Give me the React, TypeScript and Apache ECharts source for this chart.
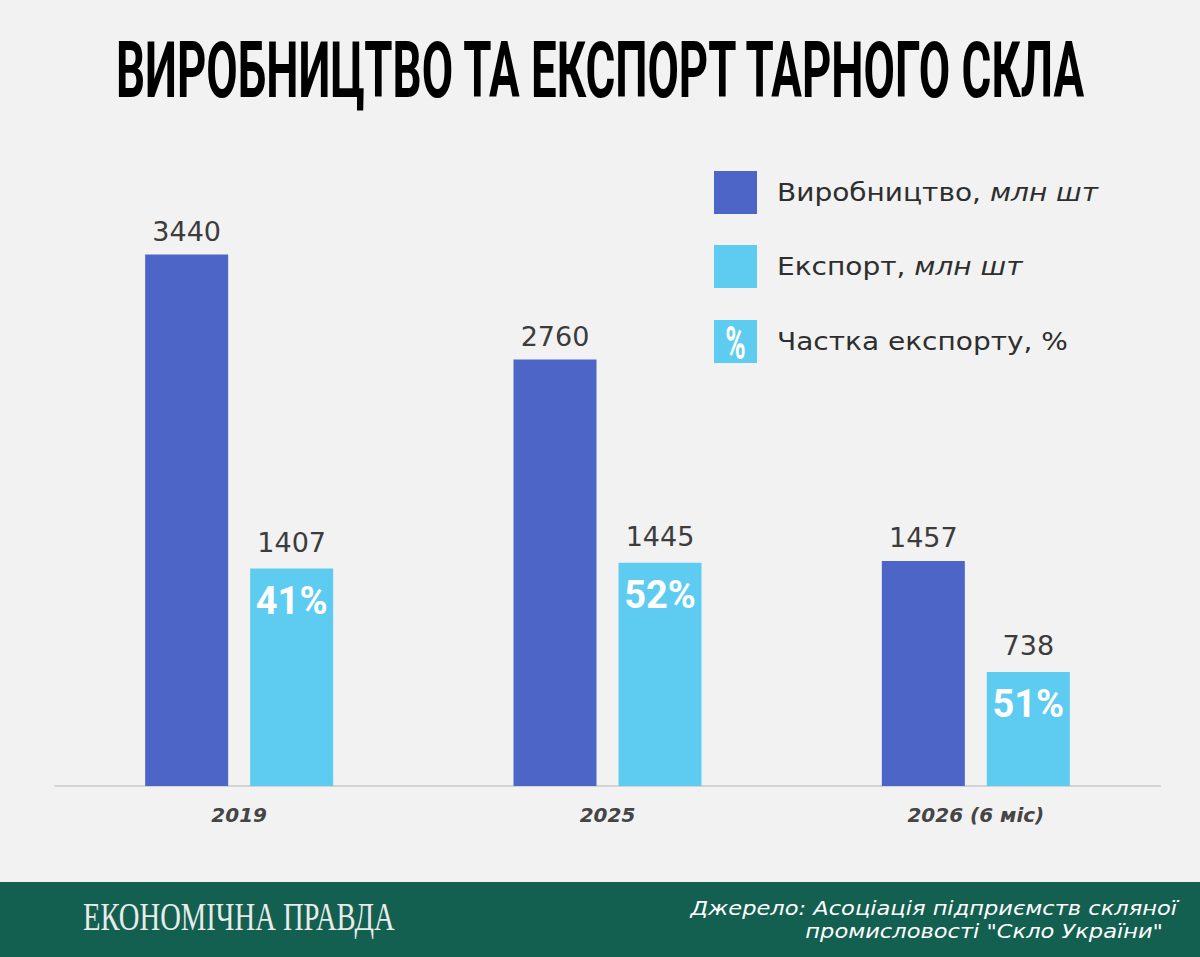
import React, { useEffect, useRef } from "react";
import * as echarts from "echarts";

const categories = ["2019", "2025", "2026 (6 міс)"];
const production = [3440, 2760, 1457];
const exportValues = [1407, 1445, 738];
const exportShare = [41, 52, 51];

const titleText = "ВИРОБНИЦТВО ТА ЕКСПОРТ ТАРНОГО СКЛА";
const legendItems = [
  { main: "Виробництво, ", unit: "млн шт" },
  { main: "Експорт, ", unit: "млн шт" },
  { main: "Частка експорту, %", unit: "" },
];
const logoText = "ЕКОНОМІЧНА ПРАВДА";
const sourceLine1 = "Джерело: Асоціація підприємств скляної";
const sourceLine2 = "промисловості \"Скло України\"";

const PROD_COLOR = "#4c65c7";
const EXP_COLOR = "#5ecbf1";

function measure(text: string, font: string): number {
  const c = document.createElement("canvas").getContext("2d");
  if (!c) return 100;
  c.font = font;
  return c.measureText(text).width;
}

export default function App() {
  const ref = useRef<HTMLDivElement>(null);
  useEffect(() => {
    document.body.style.margin = "0";
    if (!ref.current) return;
    const chart = echarts.init(ref.current, undefined, { renderer: "svg" });

    const titleFont = 'bold 77px Roboto';
    const titleScale = 972 / measure(titleText, titleFont);
    const logoFont = '40px "Liberation Serif"';
    const logoScale = 312 / measure(logoText, logoFont);
    const srcFont = 'italic 20px "DejaVu Sans"';
    const srcScale = 487 / measure(sourceLine1, srcFont);
    const legW =
      measure(legendItems[0].main, '25px "DejaVu Sans"') +
      measure(legendItems[0].unit, 'italic 25px "DejaVu Sans"');
    const legScale = 321 / legW;

    const legendY = [171, 245, 320];
    const legendGraphics: any[] = [];
    legendItems.forEach((it, i) => {
      legendGraphics.push({
        type: "rect",
        shape: { x: 714, y: legendY[i], width: 43, height: 43 },
        style: { fill: i === 0 ? PROD_COLOR : EXP_COLOR },
      });
      legendGraphics.push({
        type: "text",
        x: 777,
        y: legendY[i] + 21.5,
        scaleX: legScale,
        style: {
          text: it.unit ? `{a|${it.main}}{b|${it.unit}}` : `{a|${it.main}}`,
          verticalAlign: "middle",
          align: "left",
          rich: {
            a: { fontFamily: "DejaVu Sans", fontSize: 25, fill: "#2e2e2e" },
            b: { fontFamily: "DejaVu Sans", fontSize: 25, fontStyle: "italic", fill: "#2e2e2e" },
          },
        },
      });
    });
    legendGraphics.push({
      type: "text",
      x: 735.5,
      y: legendY[2] + 23,
      scaleX: 0.6,
      style: {
        text: "%",
        align: "center",
        verticalAlign: "middle",
        fontFamily: "Roboto",
        fontWeight: "bold",
        fontSize: 46,
        fill: "#ffffff",
      },
    });

    chart.setOption({
      animation: false,
      backgroundColor: "#f2f2f2",
      grid: { left: 55, right: 40, top: 168, bottom: 171 },
      xAxis: {
        type: "category",
        data: categories,
        axisTick: { show: false },
        axisLine: { lineStyle: { color: "#d3d3d3", width: 2 } },
        axisLabel: {
          margin: 19,
          fontFamily: "DejaVu Sans",
          fontWeight: "bold",
          fontStyle: "italic",
          fontSize: 20,
          color: "#454545",
        },
      },
      yAxis: { type: "value", min: 0, max: 4000, show: false, splitLine: { show: false } },
      series: [
        {
          type: "bar",
          name: "Виробництво, млн шт",
          data: production,
          barWidth: 83,
          barGap: "26.5%",
          itemStyle: { color: PROD_COLOR },
          label: {
            show: true,
            position: "top",
            distance: 10,
            fontFamily: "DejaVu Sans",
            fontSize: 27,
            color: "#3c3c3c",
          },
        },
        {
          type: "bar",
          name: "Експорт, млн шт",
          data: exportValues,
          barWidth: 83,
          barGap: "26.5%",
          itemStyle: { color: EXP_COLOR },
          label: {
            show: true,
            position: "insideTop",
            distance: 0,
            offset: [0, -52],
            formatter: (p: any) => `{v|${p.value}}\n{p|${exportShare[p.dataIndex]}%}`,
            rich: {
              v: { fontFamily: "DejaVu Sans", fontSize: 27, color: "#3c3c3c", lineHeight: 52 },
              p: { fontFamily: "Roboto", fontWeight: "bold", fontSize: 38, color: "#ffffff", lineHeight: 64 },
            },
          },
        },
      ],
      graphic: [
        {
          type: "text",
          x: 600,
          y: 70,
          scaleX: titleScale,
          style: {
            text: titleText,
            align: "center",
            verticalAlign: "middle",
            fontFamily: "Roboto",
            fontWeight: "bold",
            fontSize: 77,
            fill: "#000000",
          },
        },
        ...legendGraphics,
        {
          type: "rect",
          shape: { x: 0, y: 882, width: 1200, height: 75 },
          style: { fill: "#135f50" },
        },
        {
          type: "text",
          x: 83,
          y: 917,
          scaleX: logoScale,
          style: {
            text: logoText,
            align: "left",
            verticalAlign: "middle",
            fontFamily: "Liberation Serif",
            fontSize: 40,
            fill: "#e8ece9",
          },
        },
        {
          type: "text",
          x: 1177,
          y: 908,
          scaleX: srcScale,
          style: {
            text: sourceLine1,
            align: "right",
            verticalAlign: "middle",
            fontFamily: "DejaVu Sans",
            fontStyle: "italic",
            fontSize: 20,
            fill: "#ffffff",
          },
        },
        {
          type: "text",
          x: 1163,
          y: 931,
          scaleX: srcScale,
          style: {
            text: sourceLine2,
            align: "right",
            verticalAlign: "middle",
            fontFamily: "DejaVu Sans",
            fontStyle: "italic",
            fontSize: 20,
            fill: "#ffffff",
          },
        },
      ],
    });
    return () => chart.dispose();
  }, []);
  return <div ref={ref} style={{ width: 1200, height: 957 }} />;
}
